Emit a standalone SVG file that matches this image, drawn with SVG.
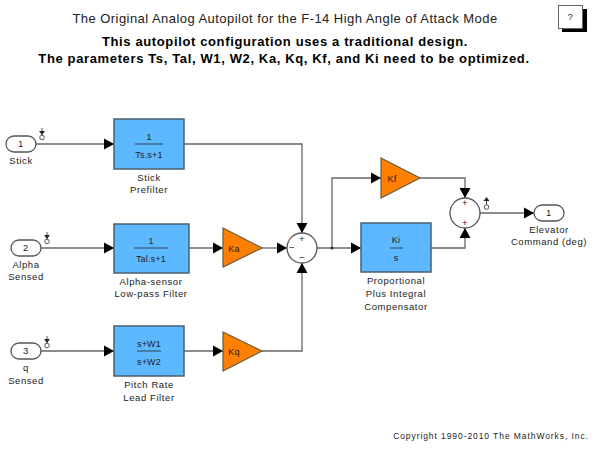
<svg xmlns="http://www.w3.org/2000/svg" width="600" height="450" viewBox="0 0 600 450">
<defs>
<marker id="a" markerUnits="userSpaceOnUse" markerWidth="11" markerHeight="12" refX="10" refY="6" orient="auto"><path d="M0 .5L10 6L0 11.500Z" fill="#000"/></marker>
</defs>
<style>
text{font-family:"Liberation Sans",Arial,sans-serif;font-size:9.500px;fill:#222;text-anchor:middle;letter-spacing:.58px}
.t{font-size:13px;letter-spacing:.45px}
.b{font-size:13px;font-weight:700;fill:#000;letter-spacing:.63px}
.m{font-size:9px;letter-spacing:.2px}
.port{fill:#fff;stroke:#555;stroke-width:1.300}
.blk{fill:#5cb8ff;stroke:#4a5f70;stroke-width:1.500}
.gain{fill:#ff8000;stroke:#6a5a40;stroke-width:1.200}
.sum{fill:#fff;stroke:#555;stroke-width:1.300}
.bar{stroke:#345;stroke-width:1;fill:none}
.w{fill:none;stroke:#666;stroke-width:1.300}
.tp{fill:none;stroke:#555;stroke-width:1}
</style>
<g id="titles">
<text class="t" x="285" y="23">The Original Analog Autopilot for the F-14 High Angle of Attack Mode</text>
<text class="b" x="285" y="46">This autopilot configuration uses a traditional design.</text>
<text class="b" x="284" y="63">The parameters Ts, Tal, W1, W2, Ka, Kq, Kf, and Ki need to be optimized.</text>
<text x="491" y="439" style="font-size:8.500px;letter-spacing:.92px">Copyright 1990-2010 The MathWorks, Inc.</text>
</g>
<g id="help">
<rect x="562" y="9" width="25" height="23" fill="#000"/>
<rect x="558.500" y="5.500" width="24" height="23" fill="#fff" stroke="#666"/>
<text x="570.500" y="20" style="font-size:9px">?</text>
</g>
<g id="connectors">
<path class="w" d="M36 144H114" marker-end="url(#a)"/>
<path class="w" d="M41 248H114" marker-end="url(#a)"/>
<path class="w" d="M41 351H114" marker-end="url(#a)"/>
<path class="w" d="M184 144H302V233" marker-end="url(#a)"/>
<path class="w" d="M189 248H223" marker-end="url(#a)"/>
<path class="w" d="M184 351H223" marker-end="url(#a)"/>
<path class="w" d="M262 248H287" marker-end="url(#a)"/>
<path class="w" d="M262 351H302V263" marker-end="url(#a)"/>
<path class="w" d="M317 248H361" marker-end="url(#a)"/>
<path class="w" d="M332 248V178H381" marker-end="url(#a)"/>
<path class="w" d="M420 178H465V198" marker-end="url(#a)"/>
<path class="w" d="M431 248H465V228" marker-end="url(#a)"/>
<path class="w" d="M480 213H534" marker-end="url(#a)"/>
<circle cx="332" cy="248" r="1.500" fill="#333"/>
</g>
<g id="in1"><rect class="port" x="6" y="136" width="30" height="16" rx="8"/><text x="21" y="147">1</text><text x="21" y="164">Stick</text>
<path class="tp" d="M42 128V135"/><path d="M39 131h6l-3 4z" fill="#222"/><circle class="tp" cx="42" cy="137.500" r="2.300"/></g>
<g id="in2"><rect class="port" x="11" y="240" width="30" height="16" rx="8"/><text x="26" y="251">2</text><text x="26" y="268">Alpha</text><text x="26" y="280">Sensed</text>
<path class="tp" d="M47 232V239"/><path d="M44 235h6l-3 4z" fill="#222"/><circle class="tp" cx="47" cy="241.500" r="2.300"/></g>
<g id="in3"><rect class="port" x="11" y="343" width="30" height="16" rx="8"/><text x="26" y="354">3</text><text x="26" y="371">q</text><text x="26" y="384">Sensed</text>
<path class="tp" d="M47 336V343"/><path d="M44 339h6l-3 4z" fill="#222"/><circle class="tp" cx="47" cy="345.500" r="2.300"/></g>
<g id="prefilter"><rect class="blk" x="114" y="119" width="70" height="50"/><path class="bar" d="M135 144H163"/><text class="m" x="149" y="140">1</text><text class="m" x="149" y="158">Ts.s+1</text><text x="149" y="181">Stick</text><text x="149" y="193">Prefilter</text></g>
<g id="alpha"><rect class="blk" x="114" y="224" width="75" height="49"/><path class="bar" d="M134 248H168"/><text class="m" x="151" y="244">1</text><text class="m" x="151" y="262">Tal.s+1</text><text x="151" y="285">Alpha-sensor</text><text x="151" y="297">Low-pass Filter</text></g>
<g id="lead"><rect class="blk" x="114" y="326" width="70" height="50"/><path class="bar" d="M137 351H161"/><text class="m" x="149" y="347">s+W1</text><text class="m" x="149" y="365">s+W2</text><text x="149" y="388">Pitch Rate</text><text x="149" y="401">Lead Filter</text></g>
<g id="ka"><path class="gain" d="M223 228L262 248L223 267Z"/><text class="m" x="234" y="252">Ka</text></g>
<g id="kq"><path class="gain" d="M223 332L262 351L223 371Z"/><text class="m" x="234" y="355">Kq</text></g>
<g id="kf"><path class="gain" d="M381 158L420 178L381 198Z"/><text class="m" x="392" y="182">Kf</text></g>
<g id="sum1"><circle class="sum" cx="302" cy="248" r="15"/><text x="302" y="242">+</text><text x="292" y="251">−</text><text x="302" y="261">−</text></g>
<g id="sum2"><circle class="sum" cx="465" cy="213" r="15"/><text x="465" y="206">+</text><text x="465" y="226">+</text>
<path class="tp" d="M486.500 199V205"/><path d="M483.500 201h6l-3 -4z" fill="#222"/><circle class="tp" cx="486.500" cy="207" r="2.300"/></g>
<g id="pi"><rect class="blk" x="361" y="223" width="70" height="49"/><path class="bar" d="M390 248H403"/><text class="m" x="396" y="243">Ki</text><text class="m" x="396" y="261">s</text><text x="396" y="284">Proportional</text><text x="396" y="297">Plus Integral</text><text x="396" y="310">Compensator</text></g>
<g id="out"><rect class="port" x="534" y="205" width="30" height="16" rx="8"/><text x="549" y="216">1</text><text x="549" y="233">Elevator</text><text x="549" y="245">Command (deg)</text></g>
</svg>
